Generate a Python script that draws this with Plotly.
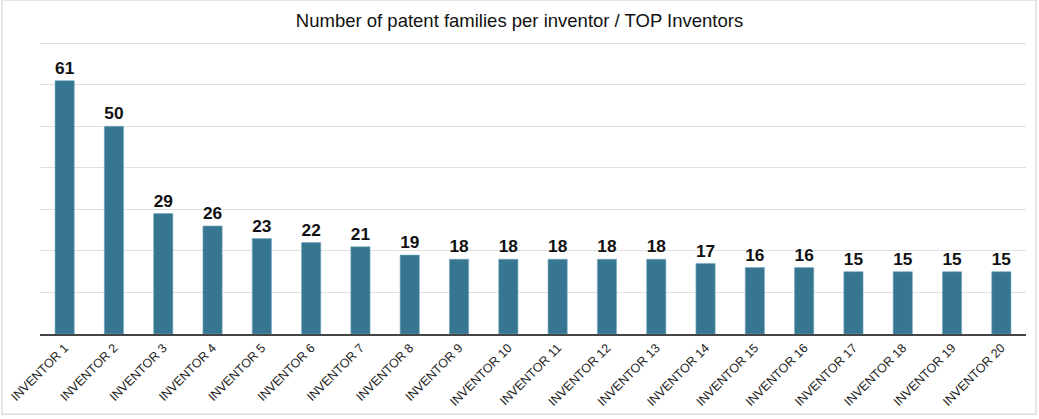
import plotly.graph_objects as go

inventors = [f"INVENTOR {i}" for i in range(1, 21)]
families = [61, 50, 29, 26, 23, 22, 21, 19, 18, 18, 18, 18, 18, 17, 16, 16, 15, 15, 15, 15]

fig = go.Figure(data=[go.Bar(
    x=inventors,
    y=families,
    marker=dict(color="rgb(54,118,145)", line=dict(color="rgba(120,170,195,0.6)", width=1)),
    text=families,
    textposition="outside",
    textfont=dict(family="Liberation Sans, Arial", size=18, color="#111111", weight="bold"),
    cliponaxis=False,
)])

fig.update_layout(
    title=dict(
        text="Number of patent families per inventor / TOP Inventors",
        x=0.5, xanchor="center", y=0.952, yanchor="middle",
        font=dict(family="Liberation Sans, Arial", size=18.5, color="#111111"),
    ),
    width=1039, height=419,
    margin=dict(l=40, r=13, t=42, b=85, autoexpand=False),
    paper_bgcolor="white",
    plot_bgcolor="white",
    bargap=0.61,
    showlegend=False,
    font=dict(family="Liberation Sans, Arial"),
    xaxis=dict(
        tickangle=-45,
        automargin=False,
        tickfont=dict(size=12.5, color="#222222"),
        showline=True, linecolor="#444444", linewidth=1.5,
        showgrid=False, ticks="",
    ),
    yaxis=dict(
        range=[0, 70.3],
        dtick=10,
        automargin=False,
        showticklabels=False,
        gridcolor="#e0e0e0",
        zeroline=False,
        showline=False,
    ),
    shapes=[dict(
        type="rect", xref="paper", yref="paper",
        x0=-0.0385, x1=1.0101, y0=-0.275, y1=1.144,
        line=dict(color="#dddddd", width=1.5),
        fillcolor="rgba(0,0,0,0)", layer="below",
    )],
)

# drop the default page margin so the figure sits at the window's corner
fig.write_html(
    "out.html",
    config={"displayModeBar": False},
    post_script="document.body.style.margin='0';",
)
